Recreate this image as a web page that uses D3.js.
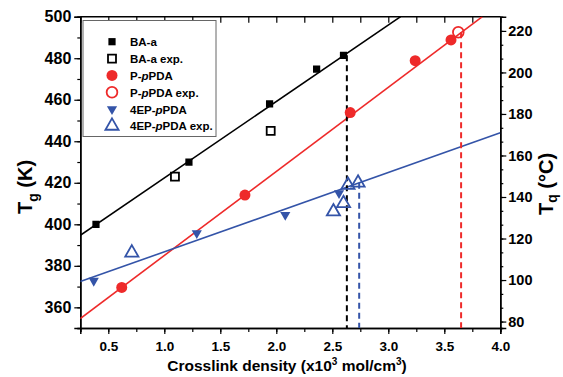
<!DOCTYPE html>
<html>
<head>
<meta charset="utf-8">
<script src="https://cdn.jsdelivr.net/npm/d3@7"></script>
<style>
  body { margin: 0; background: #fff; }
  svg { font-family: "Liberation Sans", Arial, sans-serif; font-weight: bold; }
</style>
</head>
<body>
<svg id="chart" width="563" height="377"></svg>
<script>
// crosslink density (x10^3 mol/cm3) vs Tg (K)
const baX = [0.39, 1.22, 1.94, 2.36, 2.60];
const baY = [400, 430, 458, 474.7, 481.4];
const baExpX = [1.095, 1.95];
const baExpY = [423, 445];
const ppX = [0.62, 1.72, 2.66, 3.24, 3.56];
const ppY = [369.6, 414.1, 453.8, 478.8, 488.8];
const ppExpX = [3.625];
const ppExpY = [492.5];
const epX = [0.37, 1.29, 2.08, 2.56];
const epY = [372.8, 395.7, 404.5, 415];
const epExpX = [0.71, 2.51, 2.60, 2.64, 2.73];
const epExpY = [386.3, 406.1, 410.1, 418.9, 420];

// fitted lines, [x0, y0, x1, y1]
const baFit = [0.25, 394.7, 3.11, 500];
const ppFit = [0.25, 354.6, 3.84, 500];
const epFit = [0.25, 372.4, 4.0, 444.1];

// dashed markers, [x, yTop]
const dropLines = [
  {x: 2.63, y: 481.4, color: "black"},
  {x: 2.74, y: 420, color: "#3454a8"},
  {x: 3.65, y: 492.5, color: "#ee2a2a"}
];

const xTicks = [0.5, 1.0, 1.5, 2.0, 2.5, 3.0, 3.5, 4.0];
const yTicks = [360, 380, 400, 420, 440, 460, 480, 500];
const yRTicks = [80, 100, 120, 140, 160, 180, 200, 220];

const legendItems = ["BA-a", "BA-a exp.", "P-pPDA", "P-pPDA exp.", "4EP-pPDA", "4EP-pPDA exp."];

const black = "#000", red = "#ee2a2a", blue = "#3454a8";

const svg = d3.select("#chart");
const x = d3.scaleLinear().domain([0.25, 4.0]).range([80.3, 500.3]);
const y = d3.scaleLinear().domain([350, 500]).range([328.1, 16.7]);
const yR = d3.scaleLinear().domain([350 - 273.15, 500 - 273.15]).range([328.1, 16.7]);

// axes
let bottomAx = svg.append("g").attr("transform", `translate(0,${y(350)})`)
  .call(d3.axisBottom(x).tickValues(d3.range(0.25, 4.01, 0.25)).tickSize(4).tickFormat(""));
bottomAx.append("g").call(d3.axisBottom(x).tickValues(xTicks).tickSize(6).tickFormat(d3.format(".1f")));

let topAx = svg.append("g").attr("transform", `translate(0,${y(500)})`)
  .call(d3.axisBottom(x).tickValues(d3.range(0.25, 4.01, 0.25)).tickSize(6).tickFormat(""));

let leftAx = svg.append("g").attr("transform", `translate(${x(0.25)},0)`)
  .call(d3.axisLeft(y).tickValues(d3.range(350, 501, 10)).tickSize(3).tickFormat(""));
leftAx.append("g").call(d3.axisLeft(y).tickValues(yTicks).tickSize(6));

let rightAx = svg.append("g").attr("transform", `translate(${x(4.0)},0)`)
  .call(d3.axisRight(yR).tickValues(d3.range(80, 226, 20 / 3)).tickSize(3).tickFormat(""));
rightAx.append("g").call(d3.axisRight(yR).tickValues(yRTicks).tickSize(6));

svg.selectAll(".domain").attr("stroke", black).attr("stroke-width", 1.5);
svg.selectAll(".tick line").attr("stroke", black).attr("stroke-width", 1.2);
svg.selectAll(".tick text").attr("fill", black).style("font-family", "Liberation Sans, Arial, sans-serif").style("font-weight", "bold");
bottomAx.selectAll(".tick text").style("font-size", "13.5px").attr("dy", "1.05em");
leftAx.selectAll(".tick text").style("font-size", "16px").attr("x", -9);
rightAx.selectAll(".tick text").style("font-size", "14.5px").attr("x", 8);
topAx.select(".domain").remove();
svg.append("line").attr("x1", x(0.25)).attr("x2", x(4)).attr("y1", y(500)).attr("y2", y(500))
  .attr("stroke", black).attr("stroke-width", 1.5);

// clip for plot area
svg.append("clipPath").attr("id", "clip").append("rect")
  .attr("x", x(0.25)).attr("y", y(500)).attr("width", x(4) - x(0.25)).attr("height", y(350) - y(500));
const plot = svg.append("g").attr("clip-path", "url(#clip)");

// fit lines
[[baFit, black], [ppFit, red], [epFit, blue]].forEach(([f, c]) => {
  plot.append("line")
    .attr("x1", x(f[0])).attr("y1", y(f[1])).attr("x2", x(f[2])).attr("y2", y(f[3]))
    .attr("stroke", c).attr("stroke-width", 1.6);
});

// dashed drop lines
plot.selectAll(".drop").data(dropLines).enter().append("line")
  .attr("class", "drop")
  .attr("x1", d => x(d.x)).attr("x2", d => x(d.x))
  .attr("y1", d => y(d.y)).attr("y2", y(350))
  .attr("stroke", d => d.color).attr("stroke-width", 2).attr("stroke-dasharray", "6,4");

// symbols
const sq = d3.symbol().type(d3.symbolSquare);
const circ = d3.symbol().type(d3.symbolCircle);
const tri = d3.symbol().type(d3.symbolTriangle);

function shapeFor(kind, open) {
  if (kind === "square") return sq.size(open ? 64 : 52)();
  if (kind === "circle") return circ.size(open ? 90 : 95)();
  if (kind === "down") return tri.size(45)();
  return tri.size(75)();
}

function drawPoints(xs, ys, kind, color, open) {
  const pts = xs.map((v, i) => ({x: v, y: ys[i]}));
  plot.selectAll(null).data(pts).enter().append("path")
    .attr("d", shapeFor(kind, open))
    .attr("transform", d => `translate(${x(d.x)},${y(d.y)})` + (kind === "down" ? " rotate(180)" : ""))
    .attr("fill", open ? "none" : color)
    .attr("stroke", open ? color : "none")
    .attr("stroke-width", open ? 1.8 : 0);
}

drawPoints(baX, baY, "square", black, false);
drawPoints(baExpX, baExpY, "square", black, true);
drawPoints(ppX, ppY, "circle", red, false);
drawPoints(ppExpX, ppExpY, "circle", red, true);
drawPoints(epX, epY, "down", blue, false);
drawPoints(epExpX, epExpY, "up", blue, true);

// legend
const lg = svg.append("g");
lg.append("rect").attr("x", 83).attr("y", 20.5).attr("width", 133).attr("height", 116)
  .attr("fill", "white").attr("stroke", "#666").attr("stroke-width", 1);
const legendKinds = [["square", black, false], ["square", black, true], ["circle", red, false],
  ["circle", red, true], ["down", blue, false], ["up", blue, true]];
legendItems.forEach((name, i) => {
  const ly = 41.7 + i * 16.85;
  const [kind, color, open] = legendKinds[i];
  lg.append("path")
    .attr("d", shapeFor(kind, open))
    .attr("transform", `translate(112,${ly})` + (kind === "down" ? " rotate(180)" : ""))
    .attr("fill", open ? "none" : color)
    .attr("stroke", open ? color : "none")
    .attr("stroke-width", open ? 1.8 : 0);
  const t = lg.append("text").attr("x", 130).attr("y", ly + 4.5)
    .style("font-size", "11.5px").attr("fill", black);
  const m = name.match(/^(.*-)p(PDA.*)$/);
  if (m) {
    t.append("tspan").text(m[1]);
    t.append("tspan").style("font-style", "italic").text("p");
    t.append("tspan").text(m[2]);
  } else {
    t.text(name);
  }
});

// axis titles
const xt = svg.append("text").attr("x", 287).attr("y", 371).attr("text-anchor", "middle")
  .style("font-size", "15.5px").attr("fill", black);
xt.append("tspan").text("Crosslink density (x10");
xt.append("tspan").attr("dy", -6).style("font-size", "10px").text("3");
xt.append("tspan").attr("dy", 6).text(" mol/cm");
xt.append("tspan").attr("dy", -6).style("font-size", "10px").text("3");
xt.append("tspan").attr("dy", 6).text(")");

const lt = svg.append("text").attr("transform", "translate(32,187) rotate(-90)")
  .attr("text-anchor", "middle").style("font-size", "20px").attr("fill", black);
lt.append("tspan").text("T");
lt.append("tspan").attr("dy", 6).style("font-size", "14px").text("g");
lt.append("tspan").attr("dy", -6).text(" (K)");

const rt = svg.append("text").attr("transform", "translate(553,184) rotate(-90)")
  .attr("text-anchor", "middle").style("font-size", "20px").attr("fill", black);
rt.append("tspan").text("T");
rt.append("tspan").attr("dy", 4).style("font-size", "14px").text("q");
rt.append("tspan").attr("dy", -4).text(" (°C)");
</script>
</body>
</html>
